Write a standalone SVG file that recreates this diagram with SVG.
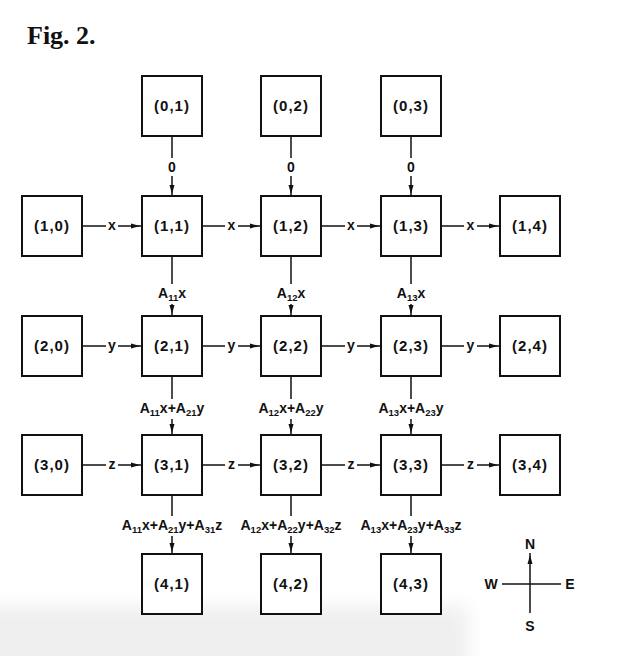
<svg xmlns="http://www.w3.org/2000/svg" width="622" height="656" viewBox="0 0 622 656">
  <defs>
    <style>
      .box { fill: #fff; stroke: #111; stroke-width: 2; }
      .ln { stroke: #111; stroke-width: 1.5; fill: none; }
      .nl { font-family: "Liberation Sans", Arial, sans-serif; font-weight: bold; font-size: 15px; letter-spacing: 1px; text-anchor: middle; fill: #111; }
      .lb { font-family: "Liberation Sans", Arial, sans-serif; font-weight: bold; font-size: 14px; text-anchor: middle; fill: #111; }
      .sb { font-size: 9.5px; }
      .title { font-family: "Liberation Serif", "Times New Roman", serif; font-weight: bold; font-size: 26px; fill: #111; }
    </style>
    <marker id="ah" markerUnits="userSpaceOnUse" markerWidth="10" markerHeight="6" refX="11" refY="2.5" orient="auto" overflow="visible">
      <path d="M0,0 L9,2.5 L0,5 Z" fill="#111"/>
    </marker>
    <filter id="soft" x="-20%" y="-50%" width="140%" height="200%">
      <feGaussianBlur stdDeviation="9"/>
    </filter>
  </defs>

  <rect width="622" height="656" fill="#fff"/>
  <!-- faint shading along the lower edge of the sheet -->
  <rect x="-30" y="606" width="498" height="90" fill="#efefef" filter="url(#soft)"/>

  <text class="title" x="27" y="44">Fig. 2.</text>

  <!-- connectors -->
  <g id="connectors">
    <!-- row 1 (x) -->
    <line class="ln" x1="82" y1="226" x2="106" y2="226"/><text class="lb" x="112" y="230">x</text><line class="ln" x1="118" y1="226" x2="142" y2="226" marker-end="url(#ah)"/>
    <line class="ln" x1="202" y1="226" x2="225" y2="226"/><text class="lb" x="231.5" y="230">x</text><line class="ln" x1="238" y1="226" x2="261" y2="226" marker-end="url(#ah)"/>
    <line class="ln" x1="321" y1="226" x2="345" y2="226"/><text class="lb" x="351" y="230">x</text><line class="ln" x1="357" y1="226" x2="381" y2="226" marker-end="url(#ah)"/>
    <line class="ln" x1="441" y1="226" x2="464" y2="226"/><text class="lb" x="470.5" y="230">x</text><line class="ln" x1="477" y1="226" x2="500" y2="226" marker-end="url(#ah)"/>
    <!-- row 2 (y) -->
    <line class="ln" x1="82" y1="346" x2="106" y2="346"/><text class="lb" x="112" y="350">y</text><line class="ln" x1="118" y1="346" x2="142" y2="346" marker-end="url(#ah)"/>
    <line class="ln" x1="202" y1="346" x2="225" y2="346"/><text class="lb" x="231.5" y="350">y</text><line class="ln" x1="238" y1="346" x2="261" y2="346" marker-end="url(#ah)"/>
    <line class="ln" x1="321" y1="346" x2="345" y2="346"/><text class="lb" x="351" y="350">y</text><line class="ln" x1="357" y1="346" x2="381" y2="346" marker-end="url(#ah)"/>
    <line class="ln" x1="441" y1="346" x2="464" y2="346"/><text class="lb" x="470.5" y="350">y</text><line class="ln" x1="477" y1="346" x2="500" y2="346" marker-end="url(#ah)"/>
    <!-- row 3 (z) -->
    <line class="ln" x1="82" y1="465" x2="106" y2="465"/><text class="lb" x="112" y="469">z</text><line class="ln" x1="118" y1="465" x2="142" y2="465" marker-end="url(#ah)"/>
    <line class="ln" x1="202" y1="465" x2="225" y2="465"/><text class="lb" x="231.5" y="469">z</text><line class="ln" x1="238" y1="465" x2="261" y2="465" marker-end="url(#ah)"/>
    <line class="ln" x1="321" y1="465" x2="345" y2="465"/><text class="lb" x="351" y="469">z</text><line class="ln" x1="357" y1="465" x2="381" y2="465" marker-end="url(#ah)"/>
    <line class="ln" x1="441" y1="465" x2="464" y2="465"/><text class="lb" x="470.5" y="469">z</text><line class="ln" x1="477" y1="465" x2="500" y2="465" marker-end="url(#ah)"/>

    <!-- column 1 -->
    <line class="ln" x1="172" y1="136" x2="172" y2="158"/><text class="lb" x="172" y="172">0</text><line class="ln" x1="172" y1="176" x2="172" y2="196" marker-end="url(#ah)"/>
    <line class="ln" x1="172" y1="256" x2="172" y2="284"/>
    <text class="lb" x="172" y="298">A<tspan class="sb" dy="3">11</tspan><tspan dy="-3">x</tspan></text>
    <line class="ln" x1="172" y1="304" x2="172" y2="316" marker-end="url(#ah)"/>
    <line class="ln" x1="172" y1="376" x2="172" y2="399"/>
    <text class="lb" x="172" y="413">A<tspan class="sb" dy="3">11</tspan><tspan dy="-3">x+A</tspan><tspan class="sb" dy="3">21</tspan><tspan dy="-3">y</tspan></text>
    <line class="ln" x1="172" y1="419" x2="172" y2="435" marker-end="url(#ah)"/>
    <line class="ln" x1="172" y1="495" x2="172" y2="516"/>
    <text class="lb" x="172" y="530">A<tspan class="sb" dy="3">11</tspan><tspan dy="-3">x+A</tspan><tspan class="sb" dy="3">21</tspan><tspan dy="-3">y+A</tspan><tspan class="sb" dy="3">31</tspan><tspan dy="-3">z</tspan></text>
    <line class="ln" x1="172" y1="536" x2="172" y2="554" marker-end="url(#ah)"/>

    <!-- column 2 -->
    <line class="ln" x1="291" y1="136" x2="291" y2="158"/><text class="lb" x="291" y="172">0</text><line class="ln" x1="291" y1="176" x2="291" y2="196" marker-end="url(#ah)"/>
    <line class="ln" x1="291" y1="256" x2="291" y2="284"/>
    <text class="lb" x="291" y="298">A<tspan class="sb" dy="3">12</tspan><tspan dy="-3">x</tspan></text>
    <line class="ln" x1="291" y1="304" x2="291" y2="316" marker-end="url(#ah)"/>
    <line class="ln" x1="291" y1="376" x2="291" y2="399"/>
    <text class="lb" x="291" y="413">A<tspan class="sb" dy="3">12</tspan><tspan dy="-3">x+A</tspan><tspan class="sb" dy="3">22</tspan><tspan dy="-3">y</tspan></text>
    <line class="ln" x1="291" y1="419" x2="291" y2="435" marker-end="url(#ah)"/>
    <line class="ln" x1="291" y1="495" x2="291" y2="516"/>
    <text class="lb" x="291" y="530">A<tspan class="sb" dy="3">12</tspan><tspan dy="-3">x+A</tspan><tspan class="sb" dy="3">22</tspan><tspan dy="-3">y+A</tspan><tspan class="sb" dy="3">32</tspan><tspan dy="-3">z</tspan></text>
    <line class="ln" x1="291" y1="536" x2="291" y2="554" marker-end="url(#ah)"/>

    <!-- column 3 -->
    <line class="ln" x1="411" y1="136" x2="411" y2="158"/><text class="lb" x="411" y="172">0</text><line class="ln" x1="411" y1="176" x2="411" y2="196" marker-end="url(#ah)"/>
    <line class="ln" x1="411" y1="256" x2="411" y2="284"/>
    <text class="lb" x="411" y="298">A<tspan class="sb" dy="3">13</tspan><tspan dy="-3">x</tspan></text>
    <line class="ln" x1="411" y1="304" x2="411" y2="316" marker-end="url(#ah)"/>
    <line class="ln" x1="411" y1="376" x2="411" y2="399"/>
    <text class="lb" x="411" y="413">A<tspan class="sb" dy="3">13</tspan><tspan dy="-3">x+A</tspan><tspan class="sb" dy="3">23</tspan><tspan dy="-3">y</tspan></text>
    <line class="ln" x1="411" y1="419" x2="411" y2="435" marker-end="url(#ah)"/>
    <line class="ln" x1="411" y1="495" x2="411" y2="516"/>
    <text class="lb" x="411" y="530">A<tspan class="sb" dy="3">13</tspan><tspan dy="-3">x+A</tspan><tspan class="sb" dy="3">23</tspan><tspan dy="-3">y+A</tspan><tspan class="sb" dy="3">33</tspan><tspan dy="-3">z</tspan></text>
    <line class="ln" x1="411" y1="536" x2="411" y2="554" marker-end="url(#ah)"/>
  </g>

  <!-- cells -->
  <g id="n01"><rect class="box" x="142" y="76" width="60" height="60"/><text class="nl" x="172" y="111">(0,1)</text></g>
  <g id="n02"><rect class="box" x="261" y="76" width="60" height="60"/><text class="nl" x="291" y="111">(0,2)</text></g>
  <g id="n03"><rect class="box" x="381" y="76" width="60" height="60"/><text class="nl" x="411" y="111">(0,3)</text></g>

  <g id="n10"><rect class="box" x="22" y="196" width="60" height="60"/><text class="nl" x="52" y="231">(1,0)</text></g>
  <g id="n11"><rect class="box" x="142" y="196" width="60" height="60"/><text class="nl" x="172" y="231">(1,1)</text></g>
  <g id="n12"><rect class="box" x="261" y="196" width="60" height="60"/><text class="nl" x="291" y="231">(1,2)</text></g>
  <g id="n13"><rect class="box" x="381" y="196" width="60" height="60"/><text class="nl" x="411" y="231">(1,3)</text></g>
  <g id="n14"><rect class="box" x="500" y="196" width="60" height="60"/><text class="nl" x="530" y="231">(1,4)</text></g>

  <g id="n20"><rect class="box" x="22" y="316" width="60" height="60"/><text class="nl" x="52" y="351">(2,0)</text></g>
  <g id="n21"><rect class="box" x="142" y="316" width="60" height="60"/><text class="nl" x="172" y="351">(2,1)</text></g>
  <g id="n22"><rect class="box" x="261" y="316" width="60" height="60"/><text class="nl" x="291" y="351">(2,2)</text></g>
  <g id="n23"><rect class="box" x="381" y="316" width="60" height="60"/><text class="nl" x="411" y="351">(2,3)</text></g>
  <g id="n24"><rect class="box" x="500" y="316" width="60" height="60"/><text class="nl" x="530" y="351">(2,4)</text></g>

  <g id="n30"><rect class="box" x="22" y="435" width="60" height="60"/><text class="nl" x="52" y="470">(3,0)</text></g>
  <g id="n31"><rect class="box" x="142" y="435" width="60" height="60"/><text class="nl" x="172" y="470">(3,1)</text></g>
  <g id="n32"><rect class="box" x="261" y="435" width="60" height="60"/><text class="nl" x="291" y="470">(3,2)</text></g>
  <g id="n33"><rect class="box" x="381" y="435" width="60" height="60"/><text class="nl" x="411" y="470">(3,3)</text></g>
  <g id="n34"><rect class="box" x="500" y="435" width="60" height="60"/><text class="nl" x="530" y="470">(3,4)</text></g>

  <g id="n41"><rect class="box" x="142" y="554" width="60" height="60"/><text class="nl" x="172" y="589">(4,1)</text></g>
  <g id="n42"><rect class="box" x="261" y="554" width="60" height="60"/><text class="nl" x="291" y="589">(4,2)</text></g>
  <g id="n43"><rect class="box" x="381" y="554" width="60" height="60"/><text class="nl" x="411" y="589">(4,3)</text></g>

  <!-- compass -->
  <g id="compass">
    <line class="ln" x1="530" y1="613" x2="530" y2="553" marker-end="url(#ah)"/>
    <line class="ln" x1="502" y1="584" x2="561" y2="584"/>
    <text class="lb" x="530" y="549">N</text>
    <text class="lb" x="530" y="631">S</text>
    <text class="lb" x="491" y="589">W</text>
    <text class="lb" x="570" y="589">E</text>
  </g>
</svg>
